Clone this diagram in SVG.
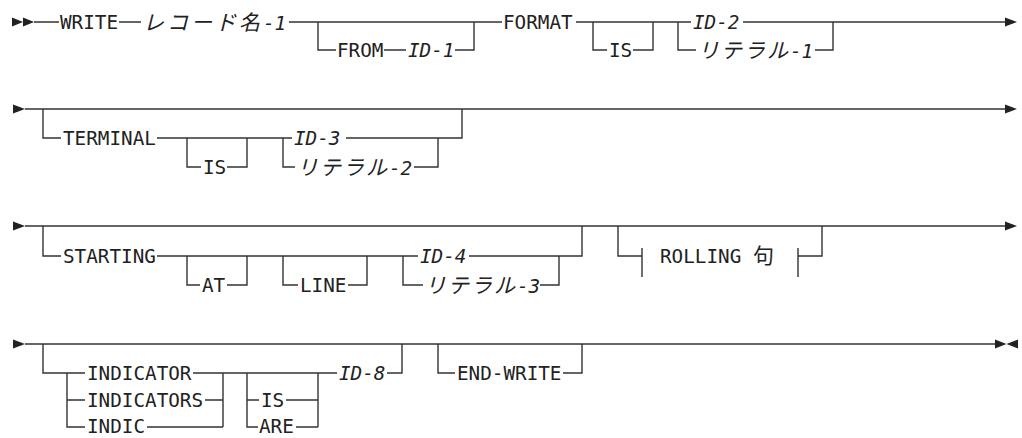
<svg xmlns="http://www.w3.org/2000/svg" width="1022" height="438" viewBox="0 0 1022 438">
<style>
.ln{fill:none;stroke:#333;stroke-width:1.4}
.ah{fill:#222;stroke:none}
.kw{font-family:"DejaVu Sans Mono","Liberation Mono",monospace;font-size:19.3px;fill:#222}
.var{font-family:"DejaVu Sans Mono","Liberation Mono","Noto Sans CJK JP",monospace;font-size:19.3px;font-style:italic;fill:#222}
.cjk{font-family:"Noto Sans CJK JP",sans-serif;font-size:21px}
</style>
<rect width="1022" height="438" fill="#fff"/>
<g id="connectors">
<!-- Row 1 -->
<path class="ln" d="M34,22 H59 M119,22 H141 M289,22 H502 M576,22 H691 M743,22 H1006"/>
<path class="ln" d="M318,22 V50 H336 M384,50 H406 M455,50 H474 V22"/>
<path class="ln" d="M593,22 V50 H607 M633,50 H653 V22"/>
<path class="ln" d="M678,22 V50 H696 M815,50 H833 V22"/>
<!-- Row 2 -->
<path class="ln" d="M25,109 H1006"/>
<path class="ln" d="M43,109 V138 H61 M157,138 H292 M346,138 H462 V109"/>
<path class="ln" d="M187,138 V167 H201 M227,167 H247 V138"/>
<path class="ln" d="M283,138 V167 H295 M414,167 H438 V138"/>
<!-- Row 3 -->
<path class="ln" d="M25,226 H1006"/>
<path class="ln" d="M43,226 V256 H61 M157,256 H418 M469,256 H582 V226"/>
<path class="ln" d="M187,256 V285 H200 M227,285 H247 V256"/>
<path class="ln" d="M283,256 V285 H298 M348,285 H367 V256"/>
<path class="ln" d="M403,256 V285 H423 M540,285 H559 V256"/>
<path class="ln" d="M618,226 V256 H642 M642,248 V277 M798,248 V277 M798,256 H822 V226"/>
<!-- Row 4 -->
<path class="ln" d="M25,344 H996"/>
<path class="ln" d="M43,344 V373 H85 M193,373 H337 M387,373 H402 V344"/>
<path class="ln" d="M67,373 V427 H85 M67,400 H85 M205,400 H223 M147,427 H223 M223,373 V427"/>
<path class="ln" d="M247,373 V427 H258 M247,400 H259 M286,400 H318 M296,427 H318 M318,373 V427"/>
<path class="ln" d="M438,344 V373 H455 M563,373 H582 V344"/>
<!-- arrowheads -->
<polygon class="ah" points="12,17.5 23,22 12,26.5"/>
<polygon class="ah" points="23,17.5 34,22 23,26.5"/>
<polygon class="ah" points="1005,17.5 1017,22 1005,26.5"/>
<polygon class="ah" points="13,104.5 25,109 13,113.5"/>
<polygon class="ah" points="1005,104.5 1017,109 1005,113.5"/>
<polygon class="ah" points="13,221.5 25,226 13,230.5"/>
<polygon class="ah" points="1005,221.5 1017,226 1005,230.5"/>
<polygon class="ah" points="13,339.5 25,344 13,348.5"/>
<polygon class="ah" points="995,339.5 1006.5,344 995,348.5"/>
<polygon class="ah" points="1018,339.5 1006.5,344 1018,348.5"/>
</g>
<g id="n-write"><text class="kw" x="60" y="29">WRITE</text></g>
<g id="n-recname"><text class="var" x="143" y="29.5"><tspan class="cjk" letter-spacing="3">レコード名</tspan>-1</text></g>
<g id="n-from"><text class="kw" x="337" y="57">FROM</text></g>
<g id="n-id1"><text class="var" x="408" y="57">ID-1</text></g>
<g id="n-format"><text class="kw" x="503" y="29">FORMAT</text></g>
<g id="n-is1"><text class="kw" x="609" y="57">IS</text></g>
<g id="n-id2"><text class="var" x="693" y="29">ID-2</text></g>
<g id="n-lit1"><text class="var" x="698" y="57.5"><tspan class="cjk" letter-spacing="2">リテラル</tspan>-1</text></g>
<g id="n-terminal"><text class="kw" x="63" y="145">TERMINAL</text></g>
<g id="n-is2"><text class="kw" x="203" y="174">IS</text></g>
<g id="n-id3"><text class="var" x="294" y="145">ID-3</text></g>
<g id="n-lit2"><text class="var" x="297" y="174.5"><tspan class="cjk" letter-spacing="2">リテラル</tspan>-2</text></g>
<g id="n-starting"><text class="kw" x="63" y="263">STARTING</text></g>
<g id="n-at"><text class="kw" x="202" y="292">AT</text></g>
<g id="n-line"><text class="kw" x="300" y="292">LINE</text></g>
<g id="n-id4"><text class="var" x="420" y="263">ID-4</text></g>
<g id="n-lit3"><text class="var" x="425" y="292.5"><tspan class="cjk" letter-spacing="2">リテラル</tspan>-3</text></g>
<g id="n-rolling"><text class="kw" x="660" y="263">ROLLING <tspan class="cjk" style="font-style:normal">句</tspan></text></g>
<g id="n-indicator"><text class="kw" x="87" y="380">INDICATOR</text></g>
<g id="n-indicators"><text class="kw" x="87" y="407">INDICATORS</text></g>
<g id="n-indic"><text class="kw" x="87" y="433">INDIC</text></g>
<g id="n-is3"><text class="kw" x="261" y="407">IS</text></g>
<g id="n-are"><text class="kw" x="259" y="433">ARE</text></g>
<g id="n-id8"><text class="var" x="339" y="380">ID-8</text></g>
<g id="n-endwrite"><text class="kw" x="457" y="380">END-WRITE</text></g>
</svg>
